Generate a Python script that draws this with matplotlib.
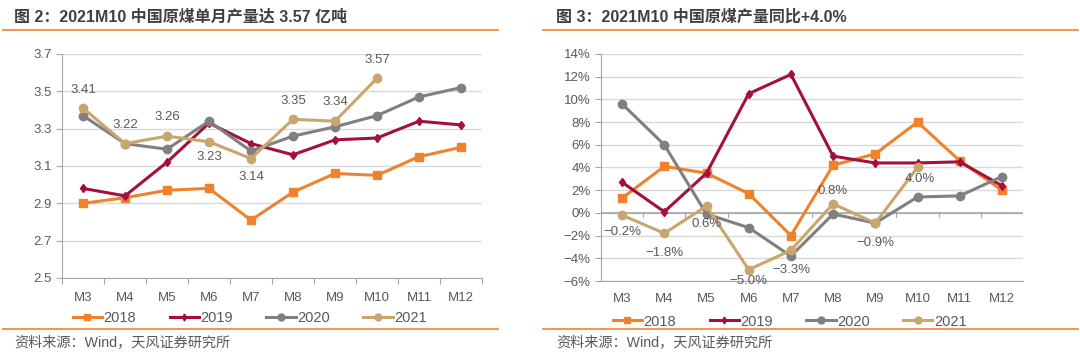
import matplotlib
matplotlib.use("Agg")
import matplotlib.pyplot as plt
from matplotlib.lines import Line2D
import numpy as np

plt.rcParams["font.family"] = ["Liberation Sans", "Noto Sans CJK SC", "DejaVu Sans"]

# data
months = ["M3", "M4", "M5", "M6", "M7", "M8", "M9", "M10", "M11", "M12"]
years = ["2018", "2019", "2020", "2021"]

out_2018 = [2.90, 2.93, 2.97, 2.98, 2.81, 2.96, 3.06, 3.05, 3.15, 3.20]
out_2019 = [2.98, 2.94, 3.12, 3.33, 3.22, 3.16, 3.24, 3.25, 3.34, 3.32]
out_2020 = [3.37, 3.22, 3.19, 3.34, 3.18, 3.26, 3.31, 3.37, 3.47, 3.52]
out_2021 = [3.41, 3.22, 3.26, 3.23, 3.14, 3.35, 3.34, 3.57]

yoy_2018 = [1.3, 4.1, 3.5, 1.7, -2.0, 4.2, 5.2, 8.0, 4.6, 2.0]
yoy_2019 = [2.7, 0.1, 3.5, 10.5, 12.2, 5.0, 4.4, 4.4, 4.5, 2.4]
yoy_2020 = [9.6, 6.0, -0.1, -1.3, -3.8, -0.1, -0.9, 1.4, 1.5, 3.2]
yoy_2021 = [-0.2, -1.8, 0.6, -5.0, -3.3, 0.8, -0.9, 4.0]

colors = ["#F0822D", "#A50F3C", "#808080", "#C9A66B"]
markers = ["s", "d", "o", "o"]
msizes = [6, 4.5, 6, 6]

# label offsets (points) for the 2021 series
left_offsets = [(0, 13), (0, 13.5), (0, 13.5), (0, -11), (0, -13), (0, 13), (0, 13.5), (0, 13.5)]
right_offsets = [(0, -12), (0, -14), (0, -13), (0, -8), (0, -14), (0, 9), (0, -14), (2, -8.5)]

W, H = 1080, 355
fig = plt.figure(figsize=(W / 100, H / 100), dpi=100)

grey_txt = "#595959"
grid_c = "#D9D9D9"


def px_axes(x0, y0, x1, y1):
    return fig.add_axes([x0 / W, 1 - y1 / H, (x1 - x0) / W, (y1 - y0) / H])


def style_axes(ax, pad):
    for s in ["top", "right"]:
        ax.spines[s].set_visible(False)
    ax.spines["left"].set_color("#A6A6A6")
    ax.spines["bottom"].set_color("#A6A6A6")
    ax.grid(axis="y", color=grid_c, linewidth=1.0)
    ax.set_axisbelow(True)
    ax.tick_params(axis="y", colors="#A6A6A6", labelcolor=grey_txt, labelsize=9.5, length=4, width=0.8)
    ax.set_xlim(-0.5, len(months) - 0.5)
    x = np.arange(len(months))
    ax.set_xticks(x)
    ax.set_xticklabels(months)
    ax.tick_params(axis="x", which="major", length=0, labelsize=9.5, labelcolor=grey_txt, pad=pad)
    ax.set_xticks(np.arange(-0.5, len(months), 1), minor=True)
    ax.tick_params(axis="x", which="minor", length=4, color="#A6A6A6", width=0.8)


def draw_series(ax, series):
    for vals, c, m, ms in zip(series, colors, markers, msizes):
        ax.plot(np.arange(len(vals)), vals, color=c, marker=m, markersize=ms, linewidth=2.2)


def legend(ax):
    handles = [Line2D([], [], color=c, marker=m, markersize=ms - 1, linewidth=2.2)
               for c, m, ms in zip(colors, markers, msizes)]
    ax.legend(handles, years, loc="upper center", bbox_to_anchor=(0.447, -0.09), ncol=4,
              frameon=False, fontsize=10.5, handlelength=2.0, handletextpad=0.1,
              columnspacing=2.3, labelcolor=grey_txt)


# left chart
ax1 = px_axes(62, 54, 482, 278)
style_axes(ax1, 10)
ax1.set_ylim(2.5, 3.7)
ax1.set_yticks(np.arange(2.5, 3.71, 0.2))
ax1.set_yticklabels([f"{v:.1f}" for v in np.arange(2.5, 3.71, 0.2)])
draw_series(ax1, [out_2018, out_2019, out_2020, out_2021])
for i, v in enumerate(out_2021):
    ax1.annotate(f"{v:.2f}", (i, v), xytext=left_offsets[i], textcoords="offset points",
                 ha="center", va="center", fontsize=9.5, color=grey_txt)
legend(ax1)

# right chart
ax2 = px_axes(601, 54, 1023, 281)
style_axes(ax2, 9)
ax2.set_ylim(-6, 14)
ax2.set_yticks(np.arange(-6, 15, 2))
ax2.set_yticklabels([f"{v}%".replace("-", "\u2212") for v in range(-6, 15, 2)])
ax2.axhline(0, color="#A6A6A6", linewidth=1.2, zorder=1)
ax2.tick_params(axis="x", which="minor", length=0)
for xb in np.arange(-0.5, len(months), 1):
    ax2.plot([xb, xb], [0, -0.35], color="#A6A6A6", linewidth=0.8, zorder=1)
draw_series(ax2, [yoy_2018, yoy_2019, yoy_2020, yoy_2021])
for i, v in enumerate(yoy_2021):
    ax2.annotate(f"{v:.1f}%".replace("-", "\u2212"), (i, v), xytext=right_offsets[i],
                 textcoords="offset points", ha="center", va="center", fontsize=9.5, color=grey_txt)
legend(ax2)

# titles, separator lines and sources
title_c = "#404040"
line_c = "#F0822D"
fig.text(14 / W, 1 - 17 / H, "图 2：2021M10 中国原煤单月产量达 3.57 亿吨", fontsize=11.5, fontweight="bold",
         color=title_c, va="center", ha="left")
fig.text(556 / W, 1 - 17 / H, "图 3：2021M10 中国原煤产量同比+4.0%", fontsize=11.5, fontweight="bold",
         color=title_c, va="center", ha="left")
for x0, x1 in [(3, 498), (543, 1078)]:
    fig.add_artist(Line2D([x0 / W, x1 / W], [1 - 30 / H, 1 - 30 / H], color=line_c, linewidth=1.2))
    fig.add_artist(Line2D([x0 / W, x1 / W], [1 - 329 / H, 1 - 329 / H], color=line_c, linewidth=1.2))
fig.text(14 / W, 1 - 342 / H, "资料来源：Wind，天风证券研究所", fontsize=10.2, color=grey_txt, va="center", ha="left")
fig.text(556 / W, 1 - 342 / H, "资料来源：Wind，天风证券研究所", fontsize=10.2, color=grey_txt, va="center", ha="left")

fig.savefig("out.png", dpi=100)
